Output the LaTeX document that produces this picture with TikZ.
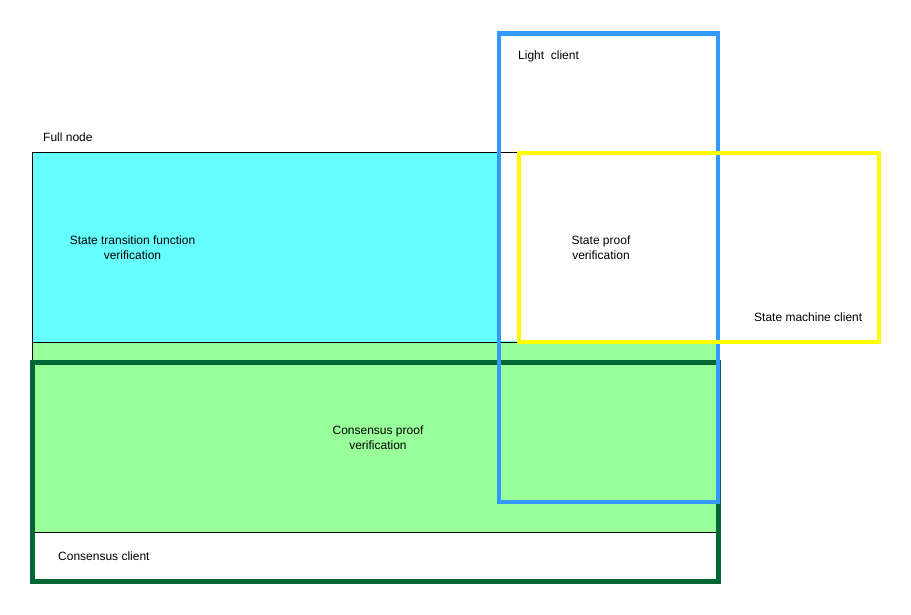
\documentclass[tikz,border=0pt]{standalone}
\usepackage{fontspec}
\setmainfont{Liberation Sans}
\definecolor{cyanfill}{HTML}{66FFFF}
\definecolor{greenfill}{HTML}{99FF99}
\definecolor{darkgreen}{HTML}{006633}
\definecolor{lightblue}{HTML}{3399FF}
\definecolor{yel}{HTML}{FFFF00}
\begin{document}
\begin{tikzpicture}[x=1pt,y=-1pt,
  lbl/.style={inner sep=0pt, font=\fontsize{12}{15}\selectfont, text=black},
  thinbox/.style={draw=black, line width=0.8pt},
  frame/.style={line width=4.5pt}]
\useasboundingbox (0,0) rectangle (911,615);
% full node area
\path[thinbox, fill=cyanfill] (32,152) rectangle (518,342);
\path[fill=white] (499,153) rectangle (518,341.4);
\path[thinbox, fill=greenfill] (32,342) rectangle (717,532);
% frames
\draw[frame, draw=darkgreen] (32.5,362.5) rectangle (718.5,581.5);
\draw[frame, draw=lightblue] (499,33.5) rectangle (718,502);
\draw[line width=4pt, draw=yel] (518.5,153) rectangle (878.5,342);
% labels
\node[lbl, anchor=west] (fullnode) at (43,137) {Full node};
\node[lbl, align=center] (stf) at (132.5,247.5) {State transition function\\verification};
\node[lbl, anchor=west] (light) at (518,56.5) {Light\ \ client};
\node[lbl, align=center] (spv) at (601,247.5) {State proof\\verification};
\node[lbl, anchor=west] (smc) at (754,317) {State machine client};
\node[lbl, align=center] (cpv) at (378,437.5) {Consensus proof\\verification};
\node[lbl, anchor=west] (cc) at (58,556.5) {Consensus client};
\end{tikzpicture}
\end{document}
